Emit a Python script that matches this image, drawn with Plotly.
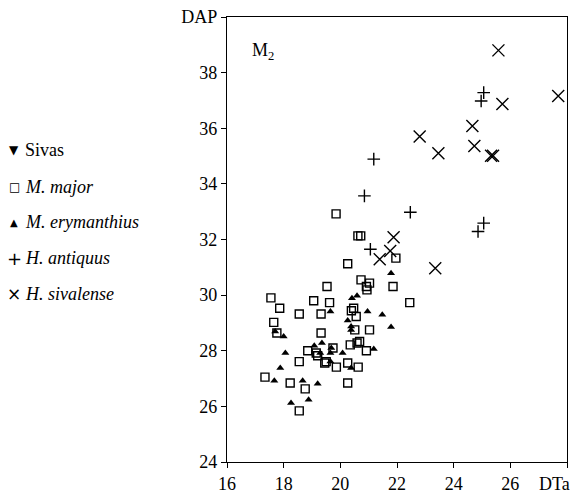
import plotly.graph_objects as go

# ---- data ----
major_x = [19.85, 20.62, 20.72, 20.26, 21.96, 20.73, 21.03, 20.92, 20.94, 19.53, 21.86,
           17.55, 19.06, 19.62, 17.86, 18.55, 19.32, 20.39, 20.47, 20.56, 17.65, 17.76,
           19.32, 20.51, 21.03, 20.35, 20.59, 20.68, 20.92, 18.85, 19.15, 19.20, 19.74,
           18.55, 19.45, 19.50, 19.86, 20.26, 20.63, 17.34, 18.23, 18.76, 20.26, 18.55, 22.45]
major_y = [32.92, 32.13, 32.13, 31.13, 31.33, 30.55, 30.43, 30.31, 30.19, 30.31, 30.31,
           29.90, 29.80, 29.73, 29.53, 29.32, 29.32, 29.44, 29.53, 29.23, 29.02, 28.64,
           28.64, 28.75, 28.75, 28.21, 28.28, 28.33, 28.00, 28.00, 27.92, 27.82, 28.10,
           27.61, 27.56, 27.61, 27.41, 27.56, 27.41, 27.05, 26.84, 26.63, 26.84, 25.84, 29.73]

eryman_x = [21.79, 20.59, 20.41, 19.65, 20.96, 21.48, 20.26, 20.38, 20.38, 21.79, 17.70,
            18.00, 19.35, 19.08, 19.68, 19.65, 19.29, 20.08, 21.18, 18.06, 19.65, 20.38,
            17.88, 17.67, 18.67, 19.20, 18.26, 18.88]
eryman_y = [30.79, 29.98, 29.89, 29.41, 29.41, 29.29, 29.09, 28.87, 28.75, 28.85, 28.69,
            28.51, 28.28, 28.18, 28.10, 27.92, 27.92, 27.92, 28.06, 27.92, 27.61, 27.38,
            27.38, 26.92, 26.92, 26.81, 26.12, 26.24]

antiq_x = [25.06, 24.97, 21.18, 20.85, 22.47, 25.06, 24.86, 21.06]
antiq_y = [37.28, 36.98, 34.89, 33.57, 32.98, 32.59, 32.29, 31.65]

sival_x = [25.58, 27.69, 25.72, 24.66, 24.73, 22.80, 23.46, 25.32, 25.39, 23.35, 21.88, 21.76, 21.39]
sival_y = [38.80, 37.16, 36.87, 36.08, 35.36, 35.70, 35.10, 35.01, 35.01, 30.97, 32.08, 31.59, 31.29]

x_ticks = [16, 18, 20, 22, 24, 26, 28]
x_ticktext = ["16", "18", "20", "22", "24", "26", ""]   # last label drawn as "DTa" below
x_end_label = "DTa"
y_ticks = [24, 26, 28, 30, 32, 34, 36, 38, 40]
y_ticktext = ["24", "26", "28", "30", "32", "34", "36", "38", "DAP"]

legend_symbols = ["▼", "□", "▲", "+", "×"]
legend_labels = ["Sivas", "<i>M. major</i>", "<i>M. erymanthius</i>", "<i>H. antiquus</i>", "<i>H. sivalense</i>"]

FONT = "Liberation Serif, Times New Roman, serif"

fig = go.Figure()
fig.add_trace(go.Scatter(x=major_x, y=major_y, mode="markers", name="M. major",
                         marker=dict(symbol="square-open", size=8, color="black",
                                     line=dict(width=1.4, color="black"))))
fig.add_trace(go.Scatter(x=eryman_x, y=eryman_y, mode="markers", name="M. erymanthius",
                         marker=dict(symbol="triangle-up", size=7, color="black",
                                     line=dict(width=0))))
fig.add_trace(go.Scatter(x=antiq_x, y=antiq_y, mode="markers", name="H. antiquus",
                         marker=dict(symbol="cross-thin-open", size=9, color="black",
                                     line=dict(width=1.4, color="black"))))
fig.add_trace(go.Scatter(x=sival_x, y=sival_y, mode="markers", name="H. sivalense",
                         marker=dict(symbol="x-thin-open", size=12, color="black",
                                     line=dict(width=1.4, color="black"))))

# manual legend (text glyphs + labels), in paper coords left of plot
L, T, W, H = 227, 17.3, 340, 445
def px2paper(px, py):
    return (px - L) / W, 1 - (py - T) / H

legend_py = [150.7, 187.3, 222.7, 258.3, 294.0]
sym_sizes = [12, 12, 10, 18, 17]
for sym, lab, py, ss in zip(legend_symbols, legend_labels, legend_py, sym_sizes):
    sx, sy = px2paper(14, py)
    fig.add_annotation(x=sx, y=sy, xref="paper", yref="paper", text=sym, showarrow=False,
                       xanchor="center", yanchor="middle",
                       font=dict(family="DejaVu Sans", size=ss, color="black"))
    tx, ty = px2paper(23, py)
    fig.add_annotation(x=tx, y=ty, xref="paper", yref="paper", text=lab, showarrow=False,
                       xanchor="left", yanchor="middle",
                       font=dict(family=FONT, size=18, color="black"))

mx, my = px2paper(250, 52)
fig.add_annotation(x=mx, y=my, xref="paper", yref="paper", text="M<sub>2</sub>",
                   showarrow=False, xanchor="left", yanchor="middle",
                   font=dict(family=FONT, size=18, color="black"))

# end label of x axis, right-aligned at the figure edge
ex, ey = px2paper(572, 484)
fig.add_annotation(x=ex, y=ey, xref="paper", yref="paper", text=x_end_label,
                   showarrow=False, xanchor="right", yanchor="middle",
                   font=dict(family=FONT, size=18, color="black"))

axis_common = dict(showgrid=False, zeroline=False, showline=True, linecolor="black",
                   linewidth=1.3, mirror=True, ticks="outside", ticklen=5, tickwidth=1.3,
                   tickcolor="black", automargin=False,
                   tickfont=dict(family=FONT, size=18, color="black"))
fig.update_xaxes(range=[16, 28], tickvals=x_ticks, ticktext=x_ticktext, **axis_common)
fig.update_yaxes(range=[24, 40], tickvals=y_ticks, ticktext=y_ticktext, **axis_common)

fig.update_layout(width=574, height=495, margin=dict(l=227, r=7, t=17, b=33),
                  plot_bgcolor="white", paper_bgcolor="white", showlegend=False,
                  font=dict(family=FONT, size=18, color="black"))

fig.write_html("out.html")
